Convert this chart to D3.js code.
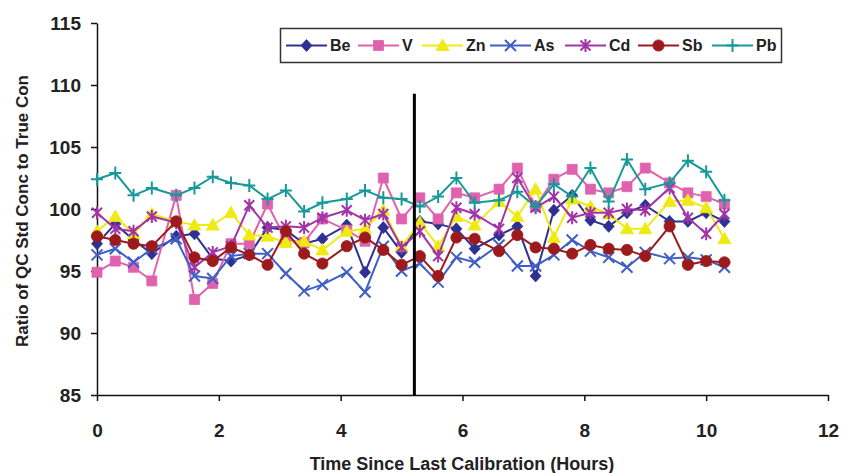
<!DOCTYPE html>
<html>
<head>
<meta charset="utf-8">
<script src="https://cdn.jsdelivr.net/npm/d3@7"></script>
<style>
  body { margin: 0; background: #fff; }
  svg { display: block; font-family: "Liberation Sans", Arial, sans-serif; }
</style>
</head>
<body>
<script>
// hours since calibration, one entry per QC check
const times = [0, 0.3, 0.6, 0.9, 1.3, 1.6, 1.9, 2.2, 2.5, 2.8, 3.1, 3.4, 3.7, 4.1, 4.4, 4.7, 5.0,
  5.3, 5.6, 5.9, 6.2, 6.6, 6.9, 7.2, 7.5, 7.8, 8.1, 8.4, 8.7, 9.0, 9.4, 9.7, 10.0, 10.3]

const be = [97.2, 98.8, 97.5, 96.4, 97.8, 98.0, 96.0, 95.8, 96.3, 98.5, 98.3, 97.2, 97.6, 98.7, 94.9, 98.5, 96.5,
  99.0, 98.8, 98.4, 96.8, 97.9, 98.6, 94.6, 99.9, 101.1, 99.1, 98.6, 99.7, 100.3, 99.0, 99.0, 99.7, 99.0]
const v = [94.9, 95.8, 95.3, 94.2, 101.1, 92.7, 94.0, 97.2, 97.2, 100.4, 97.5, 97.3, 99.2, 98.3, 97.4, 102.5, 99.2,
  100.9, 99.2, 101.3, 100.9, 101.6, 103.3, 100.2, 102.4, 103.2, 101.6, 101.3, 101.8, 103.3, 102.1, 101.3, 101.0, 100.4]
const zn = [98.2, 99.4, 98.0, 99.6, 99.0, 98.7, 98.7, 99.7, 97.9, 97.8, 97.3, 97.4, 96.7, 98.2, 98.4, 99.9, 97.0,
  98.9, 97.0, 99.4, 98.7, 100.6, 99.4, 101.6, 97.7, 100.8, 100.2, 99.6, 98.4, 98.4, 100.6, 100.7, 100.1, 97.6]
const as = [96.3, 96.8, 95.7, 96.8, 97.6, 94.6, 94.4, 96.2, 96.4, 96.4, 94.8, 93.4, 93.9, 94.9, 93.3, 97.0, 95.0,
  95.6, 94.1, 96.1, 95.7, 97.1, 95.4, 95.4, 96.3, 97.5, 96.6, 96.1, 95.3, 96.5, 96.0, 96.1, 95.9, 95.3]
const cd = [99.7, 98.4, 98.2, 99.4, 98.9, 95.3, 96.5, 97.0, 100.3, 98.5, 98.6, 98.5, 99.3, 99.9, 99.1, 99.6, 96.9,
  98.2, 96.2, 100.1, 99.6, 98.4, 102.5, 100.1, 101.0, 99.3, 99.7, 99.7, 100.0, 99.9, 101.7, 99.3, 98.0, 99.6]
const sb = [97.8, 97.5, 97.2, 97.0, 99.0, 96.1, 95.8, 96.9, 96.3, 95.5, 98.2, 96.4, 95.6, 97.0, 97.7, 96.7, 95.5,
  96.2, 94.6, 97.7, 97.6, 96.6, 97.9, 96.9, 96.8, 96.4, 97.1, 96.8, 96.7, 96.2, 98.6, 95.5, 95.8, 95.7]
const pb = [102.4, 102.9, 101.1, 101.7, 101.1, 101.7, 102.6, 102.1, 101.9, 100.8, 101.5, 99.8, 100.5, 100.8, 101.5, 100.9, 100.8,
  100.2, 101.0, 102.5, 100.5, 100.7, 101.4, 100.2, 102.0, 101.0, 103.3, 100.6, 104.0, 101.6, 102.1, 103.9, 103.0, 100.7]

const names = ["Be", "V", "Zn", "As", "Cd", "Sb", "Pb"]
const xTicks = [0, 2, 4, 6, 8, 10, 12]
const yTicks = [85, 90, 95, 100, 105, 110, 115]
const calibTime = 5.21   // recalibration marker

const values = [be, v, zn, as, cd, sb, pb]
const colors = ["#2E3192", "#E062AE", "#EFEA12", "#3F5FC6", "#A234A8", "#9C1A1C", "#17999A"]
const shapes = ["diamond", "square", "triangle", "x", "star", "circle", "plus"]

const width = 848, height = 473
const margin = { top: 23, right: 20, bottom: 78, left: 97 }

const x = d3.scaleLinear().domain([0, 12]).range([margin.left, width - margin.right])
const y = d3.scaleLinear().domain([85, 115]).range([height - margin.bottom, margin.top])

const svg = d3.select("body").append("svg")
  .attr("width", width)
  .attr("height", height)

// marker path for a given shape, centred at 0,0
function marker(shape) {
  const p = d3.path()
  if (shape === "diamond") {
    p.moveTo(0, -6); p.lineTo(5.5, 0); p.lineTo(0, 6); p.lineTo(-5.5, 0); p.closePath()
  } else if (shape === "square") {
    p.rect(-5, -5, 10, 10)
  } else if (shape === "triangle") {
    p.moveTo(0, -6.5); p.lineTo(6.5, 5); p.lineTo(-6.5, 5); p.closePath()
  } else if (shape === "circle") {
    p.arc(0, 0, 5.6, 0, 2 * Math.PI)
  } else if (shape === "x") {
    p.moveTo(-5.5, -5.5); p.lineTo(5.5, 5.5); p.moveTo(5.5, -5.5); p.lineTo(-5.5, 5.5)
  } else if (shape === "star") {
    p.moveTo(-5, -5); p.lineTo(5, 5); p.moveTo(5, -5); p.lineTo(-5, 5)
    p.moveTo(0, -6.5); p.lineTo(0, 6.5)
  } else if (shape === "plus") {
    p.moveTo(-6, 0); p.lineTo(6, 0); p.moveTo(0, -6.5); p.lineTo(0, 6.5)
  }
  return p.toString()
}
const filled = s => ["diamond", "square", "triangle", "circle"].includes(s)

// axes
const yAxis = g => g
  .attr("transform", `translate(${margin.left},0)`)
  .call(d3.axisLeft(y).tickValues(yTicks).tickSize(6).tickSizeOuter(0).tickPadding(10))
  .call(g => g.select(".domain").attr("stroke", "#111").attr("stroke-width", 1.5))
  .call(g => g.selectAll(".tick line").attr("stroke", "#111").attr("stroke-width", 1.5))
  .call(g => g.selectAll(".tick text").attr("fill", "#222")
    .style("font", "bold 19px 'Liberation Sans', Arial, sans-serif"))

const xAxis = g => g
  .attr("transform", `translate(0,${height - margin.bottom})`)
  .call(d3.axisBottom(x).tickValues(xTicks).tickSize(6).tickSizeOuter(0).tickPadding(23))
  .call(g => g.select(".domain").attr("stroke", "#111").attr("stroke-width", 1.5))
  .call(g => g.selectAll(".tick line").attr("stroke", "#111").attr("stroke-width", 1.5))
  .call(g => g.selectAll(".tick text").attr("fill", "#222")
    .style("font", "bold 19px 'Liberation Sans', Arial, sans-serif"))

svg.append("g").call(yAxis)
svg.append("g").call(xAxis)

// series
const line = d3.line().x((d, i) => x(times[i])).y(d => y(d))

names.forEach((name, k) => {
  const g = svg.append("g")
  g.append("path")
    .datum(values[k])
    .attr("fill", "none")
    .attr("stroke", colors[k])
    .attr("stroke-width", 2)
    .attr("d", line)
  g.selectAll("path.mk")
    .data(values[k])
    .join("path")
    .attr("class", "mk")
    .attr("transform", (d, i) => `translate(${x(times[i])},${y(d)})`)
    .attr("d", marker(shapes[k]))
    .attr("fill", filled(shapes[k]) ? colors[k] : "none")
    .attr("stroke", colors[k])
    .attr("stroke-width", filled(shapes[k]) ? 0.8 : 2)
})

// calibration line
svg.append("line")
  .attr("x1", x(calibTime)).attr("x2", x(calibTime))
  .attr("y1", y(109.3)).attr("y2", y(85))
  .attr("stroke", "#000")
  .attr("stroke-width", 3)

// axis titles
svg.append("text")
  .attr("transform", `translate(28,${(y(85) + y(115)) / 2 + 2}) rotate(-90)`)
  .attr("text-anchor", "middle")
  .attr("fill", "#222")
  .style("font", "bold 17px 'Liberation Sans', Arial, sans-serif")
  .text("Ratio of QC Std Conc to True Con")

svg.append("text")
  .attr("x", 462)
  .attr("y", 470)
  .attr("text-anchor", "middle")
  .attr("fill", "#222")
  .style("font", "bold 18px 'Liberation Sans', Arial, sans-serif")
  .text("Time Since Last Calibration (Hours)")

// legend
const legX = [286, 358, 422, 490, 565, 638, 712]
const legend = svg.append("g")
legend.append("rect")
  .attr("x", 280.5).attr("y", 28.5)
  .attr("width", 501).attr("height", 34)
  .attr("fill", "#fff")
  .attr("stroke", "#333")
  .attr("stroke-width", 1.5)

const item = legend.selectAll("g.item")
  .data(names)
  .join("g")
  .attr("class", "item")
  .attr("transform", (d, i) => `translate(${legX[i]},45.5)`)

item.append("line")
  .attr("x1", 0).attr("x2", 41)
  .attr("stroke", (d, i) => colors[i])
  .attr("stroke-width", 2)
item.append("path")
  .attr("transform", "translate(20.5,0)")
  .attr("d", (d, i) => marker(shapes[i]))
  .attr("fill", (d, i) => filled(shapes[i]) ? colors[i] : "none")
  .attr("stroke", (d, i) => colors[i])
  .attr("stroke-width", (d, i) => filled(shapes[i]) ? 0.8 : 2)
item.append("text")
  .attr("x", 44)
  .attr("dy", "0.36em")
  .attr("fill", "#222")
  .style("font", "bold 16px 'Liberation Sans', Arial, sans-serif")
  .text(d => d)
</script>
</body>
</html>
